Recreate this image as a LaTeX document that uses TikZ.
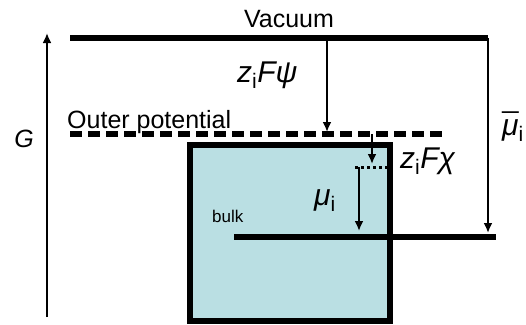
\documentclass[tikz,border=0pt]{standalone}
\usepackage{fontspec}
\setmainfont{Liberation Sans}
\usetikzlibrary{arrows.meta,positioning}
\definecolor{BulkFill}{HTML}{BADFE3}

\begin{document}
\begin{tikzpicture}[
  x=1pt,y=-1pt,
  >={Latex[length=10pt,width=9pt]},
  level/.style={line width=5.5pt},
  arrow/.style={->,line width=2pt},
  phase/.style={draw,fill=BulkFill,line width=5.5pt},
  label/.style={inner sep=0pt,font=\fontsize{25}{28}\selectfont},
  symbol/.style={inner sep=0pt,font=\fontsize{30}{34}\selectfont},
  small/.style={inner sep=0pt,font=\fontsize{17}{20}\selectfont}
]
  \useasboundingbox (0,0) rectangle (526,324);
  % bulk phase
  \draw[phase] (190,145) rectangle (390,321);
  % energy levels
  \coordinate (vacL) at (70,38);
  \coordinate (vacR) at (488,38);
  \coordinate (outL) at (70,134);
  \coordinate (outR) at (442,134);
  \coordinate (bulkL) at (234,237);
  \coordinate (bulkR) at (496,237);
  \draw[level] (vacL) -- (vacR);
  \draw[level,dash pattern=on 12pt off 6pt] (outL) -- (outR);
  \draw[level] (bulkL) -- (bulkR);
  \coordinate (dotL) at (355,167);
  \coordinate (dotR) at (388,167);
  \draw[line width=3pt,dash pattern=on 3pt off 3pt] (dotL) -- (dotR);
  % steps
  \coordinate (psiTop) at (327,38);
  \coordinate (psiEnd) at (327,132);
  \coordinate (chiTop) at (372,134);
  \coordinate (chiEnd) at (372,164);
  \coordinate (muTop) at (359,167);
  \coordinate (muEnd) at (359,231);
  \coordinate (totEnd) at (488,233);
  \coordinate (gLow) at (47,317);
  \coordinate (gHigh) at (47,33);
  \draw[arrow] (psiTop) -- (psiEnd);
  \draw[arrow] (chiTop) -- (chiEnd);
  \draw[arrow] (muTop) -- (muEnd);
  \draw[->,line width=2.5pt] (vacR) -- (totEnd);
  \draw[arrow] (gLow) -- (gHigh);
  % labels
  \node[label,anchor=base] (vacuum) at (289,27) {Vacuum};
  \node[label,anchor=base west] (outer) at (67,128) {Outer potential};
  \node[small,anchor=base west] (bulk) at (212,222) {bulk};
  \node[label,anchor=base] (gibbs) at (24,147) {\textit{G}};
  \node[symbol,anchor=base west] (zpsi) at (237,82) {\textit{z}\textsubscript{i}\textit{Fψ}};
  \node[symbol,anchor=base west] (zchi) at (400,168) {\textit{z}\textsubscript{i}\textit{Fχ}};
  \node[symbol,anchor=base west] (mu) at (314,205) {\textit{μ}\textsubscript{i}};
  \node[symbol,anchor=base west] (mubar) at (502,135) {\textit{\accent"AF μ}\textsubscript{i}};
\end{tikzpicture}
\end{document}
